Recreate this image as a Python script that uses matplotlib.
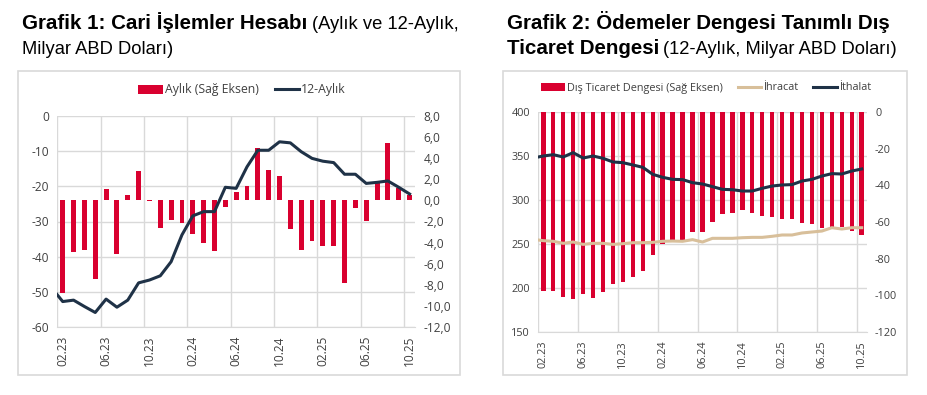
import matplotlib

matplotlib.use("Agg")
import matplotlib.pyplot as plt
import numpy as np
from matplotlib.patches import Rectangle

# --- data (milyar ABD doları) ---
tick_labels = ["02.23", "06.23", "10.23", "02.24", "06.24", "10.24", "02.25", "06.25", "10.25"]

# Grafik 1: aylık cari denge (sağ eksen), 02.23 - 10.25
cari_aylik = [-8.8, -4.9, -4.7, -7.4, 1.1, -5.1, 0.5, 2.8, -0.1, -2.6, -1.9,
              -2.1, -3.2, -4.0, -4.8, -0.6, 0.8, 1.4, 4.9, 2.9, 2.3, -2.7,
              -4.7, -3.8, -4.3, -4.3, -7.8, -0.7, -2.0, 1.6, 5.4, 1.2, 0.5]
# 12-aylık cari denge, 01.23 - 10.25
cari_12ay = [-48.9, -52.7, -52.3, -54.1, -55.8, -52.0, -54.3, -52.3, -47.4,
             -46.6, -45.4, -41.4, -33.8, -28.4, -27.2, -27.2, -20.3, -20.6,
             -14.5, -9.8, -9.8, -7.4, -7.7, -10.2, -12.1, -12.9, -13.3,
             -16.6, -16.6, -19.2, -18.9, -18.5, -20.3, -22.2]

# Grafik 2: dış ticaret dengesi (sağ eksen), 02.23 - 10.25
dis_ticaret = [-97.8, -97.8, -100.9, -102.3, -99.6, -101.4, -98.3, -93.7,
               -92.6, -89.9, -86.6, -78.1, -72.2, -70.4, -69.9, -65.7, -65.5,
               -59.8, -55.8, -55.3, -53.4, -54.9, -56.5, -57.5, -58.2, -58.2,
               -60.7, -61.1, -63.5, -62.7, -62.9, -64.9, -67.3]
# ihracat / ithalat, 01.23 - 10.25
ihracat = [255.3, 253.7, 253.0, 250.7, 252.2, 249.5, 250.7, 250.7, 249.5,
           250.3, 251.4, 251.4, 251.8, 253.0, 253.3, 253.0, 254.9, 252.2,
           256.4, 256.4, 256.4, 257.1, 257.5, 257.5, 258.7, 260.2, 260.2,
           262.5, 263.6, 264.7, 268.5, 267.0, 268.5, 268.5]
ithalat = [348.0, 350.2, 351.7, 349.1, 354.0, 347.9, 350.2, 347.6, 343.4,
           342.6, 340.0, 337.3, 329.3, 325.9, 323.6, 323.3, 319.8, 318.3,
           315.3, 312.2, 311.8, 310.3, 310.3, 313.4, 316.0, 317.2, 317.6,
           321.7, 323.6, 327.4, 330.1, 329.7, 333.1, 335.4]

RED = "#D9002F"
NAVY = "#1F3247"
TAN = "#D8BF9A"
GRID = "#D9D9D9"
TXT = "#404040"

plt.rcParams["font.family"] = ["Open Sans", "DejaVu Sans"]
plt.rcParams["axes.unicode_minus"] = False

W, H = 927, 395
fig = plt.figure(figsize=(W / 100, H / 100), dpi=100)


def fx(px):
    return px / W


def fy(py):
    return 1 - py / H


def frame(x0, x1, y0, y1):
    fig.patches.append(Rectangle((fx(x0), fy(y1)), fx(x1) - fx(x0), fy(y0) - fy(y1),
                                 transform=fig.transFigure, fill=False,
                                 edgecolor=GRID, lw=1.2))


def style_axes(ax, ax2, n, fs):
    ax.set_xlim(-0.5, n - 0.5)
    ax.set_xticks(np.arange(0, n, 4))
    ax.set_xticklabels(tick_labels, rotation=90)
    ax.set_xticks(np.arange(-0.5, n, 4), minor=True)
    ax.grid(which="minor", axis="x", color=GRID, lw=1)
    ax.grid(which="major", axis="y", color=GRID, lw=1)
    ax.tick_params(which="both", length=0, labelsize=fs, colors=TXT, pad=6)
    ax2.tick_params(which="both", length=0, labelsize=fs, colors=TXT, pad=6)
    for a in (ax, ax2):
        for s in a.spines.values():
            s.set_visible(False)
    ax.spines["bottom"].set_visible(True)
    ax.spines["bottom"].set_color(GRID)


def title(x, lines):
    renderer = fig.canvas.get_renderer()
    for ybase, parts in lines:
        xpos = fx(x)
        for txt, bold in parts:
            t = fig.text(xpos, fy(ybase), txt, va="baseline", ha="left",
                         family=["Liberation Sans", "DejaVu Sans"],
                         fontsize=14.8 if bold else 13.2,
                         fontweight="bold" if bold else "normal", color="black")
            bb = t.get_window_extent(renderer)
            xpos = bb.x1 / fig.bbox.width + fx(4)


# ---------------- Grafik 1 ----------------
frame(18, 460, 71, 375)
n = len(cari_aylik)
x = np.arange(n)
x_line = np.arange(-1, n)

ax = fig.add_axes([fx(57.3), fy(327.3), fx(415) - fx(57.3), fy(115.7) - fy(327.3)])
ax2 = ax.twinx()
bars1 = ax2.bar(x, cari_aylik, width=0.45, color=RED, label="Aylık (Sağ Eksen)", zorder=2)
line1, = ax2.plot(x_line, cari_12ay, color=NAVY, lw=2.2, transform=ax.transData,
                  label="12-Aylık", zorder=3, solid_joinstyle="round")
ax.set_ylim(-60, 0)
ax.set_yticks(np.arange(-60, 1, 10))
ax2.set_ylim(-12, 8)
ax2.set_yticks(np.arange(-12, 8.1, 2))
ax2.set_yticklabels([f"{v:.1f}".replace(".", ",") for v in np.arange(-12, 8.1, 2)])
style_axes(ax, ax2, n, 8.6)
ax2.set_xlim(-0.5, n - 0.5)

fig.legend([bars1, line1], ["Aylık (Sağ Eksen)", "12-Aylık"], loc="center",
           bbox_to_anchor=(fx(242), fy(90)), ncol=2, frameon=False, fontsize=8.8,
           handlelength=2.0, handletextpad=0.15, columnspacing=1.3, labelcolor=TXT)

# ---------------- Grafik 2 ----------------
frame(502.7, 907, 71, 375)
n2 = len(dis_ticaret)
x2 = np.arange(n2)
x2_line = np.arange(-1, n2)

bx = fig.add_axes([fx(538.3), fy(331.7), fx(866.7) - fx(538.3), fy(112.3) - fy(331.7)])
bx2 = bx.twinx()
bars2 = bx2.bar(x2, dis_ticaret, width=0.45, color=RED, zorder=2)
l_ihr, = bx2.plot(x2_line, ihracat, color=TAN, lw=2.2, transform=bx.transData, zorder=3)
l_ith, = bx2.plot(x2_line, ithalat, color=NAVY, lw=2.2, transform=bx.transData, zorder=4,
                  solid_joinstyle="round")
bx.set_ylim(150, 400)
bx.set_yticks(np.arange(150, 401, 50))
bx2.set_ylim(-120, 0)
bx2.set_yticks(np.arange(-120, 1, 20))
style_axes(bx, bx2, n2, 7.8)
bx2.set_xlim(-0.5, n2 - 0.5)

fig.legend([bars2, l_ihr, l_ith], ["Dış Ticaret Dengesi (Sağ Eksen)", "İhracat", "İthalat"],
           loc="center", bbox_to_anchor=(fx(706), fy(88)), ncol=3, frameon=False,
           fontsize=7.8, handlelength=2.2, handletextpad=0.15, columnspacing=1.4,
           labelcolor=TXT)

# ---------------- titles ----------------
title(22.5, [(29.3, [("Grafik 1: Cari İşlemler Hesabı", True), ("(Aylık ve 12-Aylık,", False)]),
             (53.5, [("Milyar ABD Doları)", False)])])
title(507, [(29.3, [("Grafik 2: Ödemeler Dengesi Tanımlı Dış", True)]),
            (54.5, [("Ticaret Dengesi", True), ("(12-Aylık, Milyar ABD Doları)", False)])])

fig.savefig("out.png", dpi=100)
